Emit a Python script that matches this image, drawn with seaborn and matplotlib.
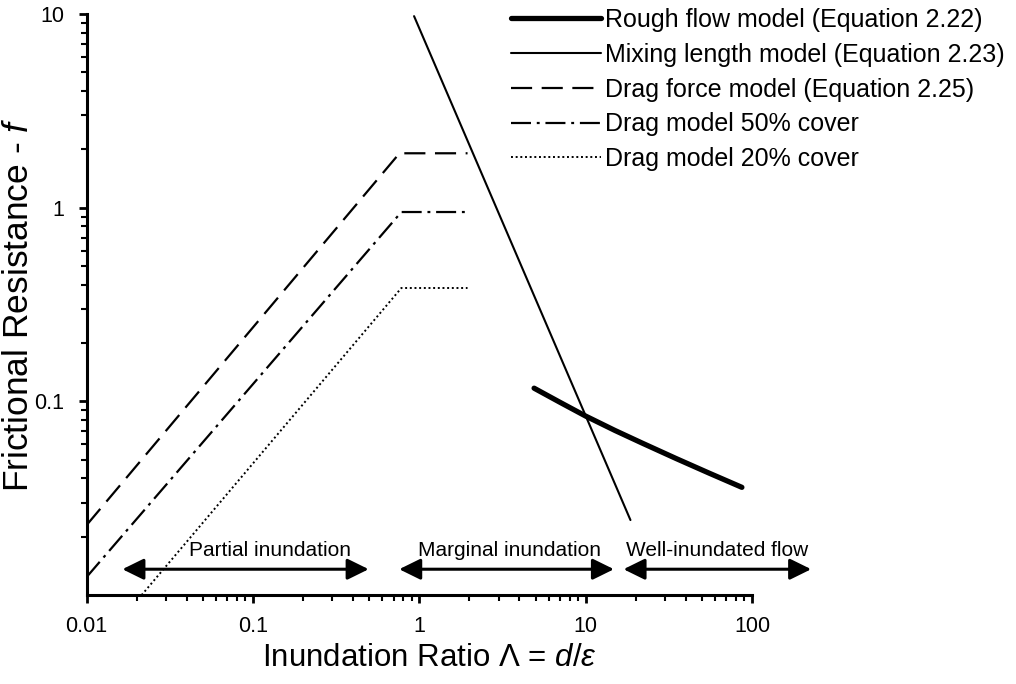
import matplotlib
matplotlib.use("Agg")
import matplotlib.pyplot as plt
from matplotlib.ticker import LogLocator, NullFormatter, FixedLocator, FixedFormatter
import numpy as np
import pandas as pd
import seaborn as sns

# ---------------- data ----------------
rough_x = [4.9, 7, 10, 15, 21.8, 35, 55, 87]
rough_f = [0.117, 0.099, 0.084, 0.0708, 0.061, 0.0507, 0.0427, 0.036]

mix_x = [0.93, 18.6]
mix_f = [9.75, 0.0244]

drag_x = [0.01, 0.76, 1.95]
drag_f = [0.023, 1.91, 1.91]

drag50_x = [0.01, 0.78, 1.95]
drag50_f = [0.0124, 0.95, 0.95]

drag20_x = [0.0214, 0.78, 1.95]
drag20_f = [0.01, 0.385, 0.385]

series_names = [
    "Rough flow model (Equation 2.22)",
    "Mixing length model (Equation 2.23)",
    "Drag force model (Equation 2.25)",
    "Drag model 50% cover",
    "Drag model 20% cover",
]

regions = ["Partial inundation", "Marginal inundation", "Well-inundated flow"]
region_left = [0.0164, 0.757, 16.9]
region_right = [0.496, 14.8, 227]
region_label_x = [0.126, 3.47, 61.4]
arrow_y = 0.0136
label_y = 0.0151

xtick_vals = [0.01, 0.1, 1, 10, 100]
xtick_labels = ["0.01", "0.1", "1", "10", "100"]
ytick_vals = [0.1, 1, 10]
ytick_labels = ["0.1", "1", "10"]

# ---------------- style ----------------
sns.set_theme(style="ticks")
plt.rcParams["font.family"] = ["Liberation Sans", "DejaVu Sans"]
plt.rcParams["mathtext.fontset"] = "custom"
plt.rcParams["mathtext.rm"] = "Liberation Sans"
plt.rcParams["mathtext.it"] = "Liberation Sans:italic"

fig = plt.figure(figsize=(10.16, 6.84), dpi=100)
ax = fig.add_axes([0.0853, 0.130, 0.6548, 0.8495])

styles = [
    dict(lw=3.8, linestyle="-"),
    dict(lw=1.5, linestyle="-"),
    dict(lw=1.6, linestyle=(0, (9.5, 4.3))),
    dict(lw=1.6, linestyle=(0, (9.0, 2.6, 1.3, 2.6))),
    dict(lw=1.4, linestyle=(0, (1.0, 1.4))),
]
xs = [rough_x, mix_x, drag_x, drag50_x, drag20_x]
ys = [rough_f, mix_f, drag_f, drag50_f, drag20_f]

for name, x, y, st in zip(series_names, xs, ys, styles):
    df = pd.DataFrame({"x": x, "f": y})
    sns.lineplot(data=df, x="x", y="f", ax=ax, color="black", sort=False,
                 estimator=None, label=name, **st)

ax.set_xscale("log")
ax.set_yscale("log")
ax.set_xlim(0.01, 100)
ax.set_ylim(0.01, 10)

ax.xaxis.set_major_locator(FixedLocator(xtick_vals))
ax.xaxis.set_major_formatter(FixedFormatter(xtick_labels))
ax.yaxis.set_major_locator(FixedLocator(ytick_vals))
ax.yaxis.set_major_formatter(FixedFormatter(ytick_labels))
ax.xaxis.set_minor_locator(LogLocator(base=10, subs=np.arange(2, 10), numticks=20))
ax.yaxis.set_minor_locator(LogLocator(base=10, subs=np.arange(2, 10), numticks=20))
ax.xaxis.set_minor_formatter(NullFormatter())
ax.yaxis.set_minor_formatter(NullFormatter())

ax.tick_params(which="major", direction="out", length=6, width=2, color="black",
               labelsize=15.5, labelcolor="black")
ax.tick_params(axis="x", which="major", pad=9)
ax.tick_params(axis="y", which="major", pad=10)
ax.tick_params(which="minor", direction="out", length=4, width=1.5, color="black")

sns.despine(ax=ax)
for sp in ["left", "bottom"]:
    ax.spines[sp].set_linewidth(2.2)
    ax.spines[sp].set_color("black")
ax.set_facecolor("white")
ax.grid(False)

ax.set_xlabel(r"Inundation Ratio Λ = $d/\varepsilon$", fontsize=22.5, color="black")
ax.set_ylabel(r"Frictional Resistance - $f$", fontsize=25.5, color="black")
ax.xaxis.set_label_coords(0.516, -0.083)
ax.yaxis.set_label_coords(-0.077, 0.5)

# region arrows
for name, l, r, lx in zip(regions, region_left, region_right, region_label_x):
    ax.annotate("", xy=(l, arrow_y), xytext=(r, arrow_y),
                arrowprops=dict(arrowstyle="<|-|>,head_length=0.65,head_width=0.32",
                                color="black", lw=2.2, shrinkA=0, shrinkB=0,
                                mutation_scale=20),
                annotation_clip=False)
    ax.text(lx, label_y, name, ha="center", va="bottom", fontsize=15,
            color="black")

leg = ax.legend(loc="upper left", bbox_to_anchor=(0.503, 0.988),
                bbox_transform=fig.transFigure, frameon=False, fontsize=18,
                handlelength=3.6, handletextpad=0.15, labelspacing=0.43,
                borderpad=0, borderaxespad=0)
for t in leg.get_texts():
    t.set_color("black")

fig.savefig("out.png", dpi=100, facecolor="white")
